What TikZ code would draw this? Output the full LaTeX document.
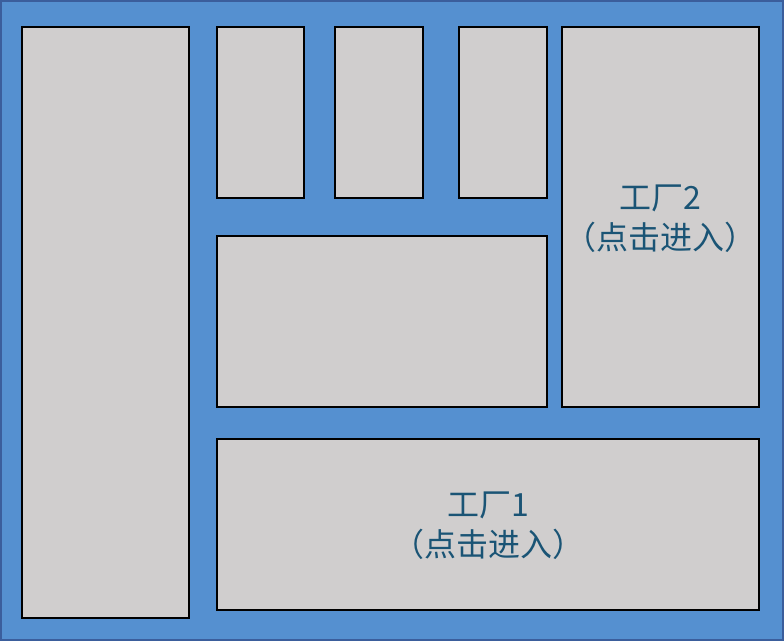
\documentclass[tikz,border=0pt]{standalone}
\usepackage{fontspec}
\newfontfamily\cjk{Noto Sans CJK SC}
\definecolor{bgblue}{HTML}{5590D0}
\definecolor{bgedge}{HTML}{3B5E9C}
\definecolor{panelgray}{HTML}{D0CECE}
\definecolor{labelblue}{HTML}{1A5475}
\tikzset{panel/.style={draw=black,line width=2pt,fill=panelgray,inner sep=0pt,align=center,font=\cjk\fontsize{32}{40}\selectfont,text=labelblue}}
\begin{document}
\begin{tikzpicture}[x=1pt,y=-1pt]
% background frame and panels
\draw[fill=bgblue,draw=bgedge,line width=2pt] (1,1) rectangle (783,640);
\useasboundingbox (0,0) rectangle (784,641);
\node[panel,minimum width=167pt,minimum height=591pt] (left) at (105.5,322.5) {};
\node[panel,minimum width=87pt,minimum height=171pt] (sa) at (260.5,112.5) {};
\node[panel,minimum width=88pt,minimum height=171pt] (sb) at (379,112.5) {};
\node[panel,minimum width=88pt,minimum height=171pt] (sc) at (503,112.5) {};
\node[panel,minimum width=197pt,minimum height=380pt] (fac2) at (660.5,217) {};
\node[panel,minimum width=330pt,minimum height=171pt] (mid) at (382,321.5) {};
\node[panel,minimum width=542pt,minimum height=171pt] (fac1) at (488,524.5) {};
% labels
\node[panel,draw=none,fill=none] (fac2txt) at ([yshift=-2pt]fac2.center) {工厂2\\（点击进入）};
\node[panel,draw=none,fill=none] (fac1txt) at ([yshift=-1pt]fac1.center) {工厂1\\（点击进入）};
\end{tikzpicture}
\end{document}
